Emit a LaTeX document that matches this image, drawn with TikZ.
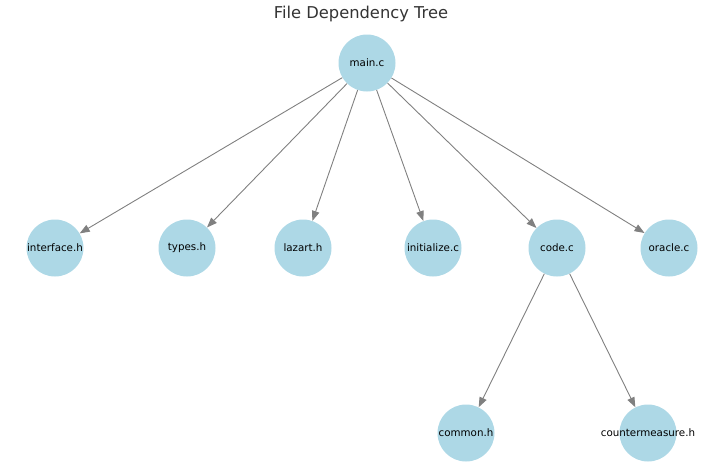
\documentclass[tikz,border=0pt]{standalone}
\usepackage{fontspec}
\setmainfont{DejaVu Sans}
\usetikzlibrary{arrows.meta}
\definecolor{nodeblue}{RGB}{173,216,230}
\definecolor{edgegray}{RGB}{128,128,128}
\tikzset{
  filenode/.style={circle,fill=nodeblue,minimum size=57pt,inner sep=0pt,
    label={[font=\fontsize{10.3}{12}\selectfont,inner sep=0pt]center:#1}},
  dep/.style={draw=edgegray,line width=0.9pt,-{Triangle[length=10pt,width=7.5pt]},edgegray}
}
\begin{document}
\begin{tikzpicture}[x=1pt,y=-1pt]
    \useasboundingbox (0,0) rectangle (726,472);

    % Titre
    \node[font=\fontsize{16.3}{18}\selectfont,text=black!80] (title) at (361,14) {File Dependency Tree};

    % Fichiers
    \node[filenode=main.c] (main) at (367,63) {};

    \node[filenode=interface.h] (iface) at (55,248) {};
    \node[filenode=types.h] (types) at (187,248) {};
    \node[filenode=lazart.h] (lazart) at (303,248) {};
    \node[filenode=initialize.c] (init) at (433,248) {};
    \node[filenode=code.c] (code) at (557,248) {};
    \node[filenode=oracle.c] (oracle) at (669,248) {};

    \node[filenode=common.h] (common) at (466,433) {};
    \node[filenode=countermeasure.h] (counter) at (648,433) {};

    % Dependances
    \foreach \f in {iface,types,lazart,init,code,oracle}
        \draw[dep] (main) -- (\f);
    \draw[dep] (code) -- (common);
    \draw[dep] (code) -- (counter);

\end{tikzpicture}
\end{document}
